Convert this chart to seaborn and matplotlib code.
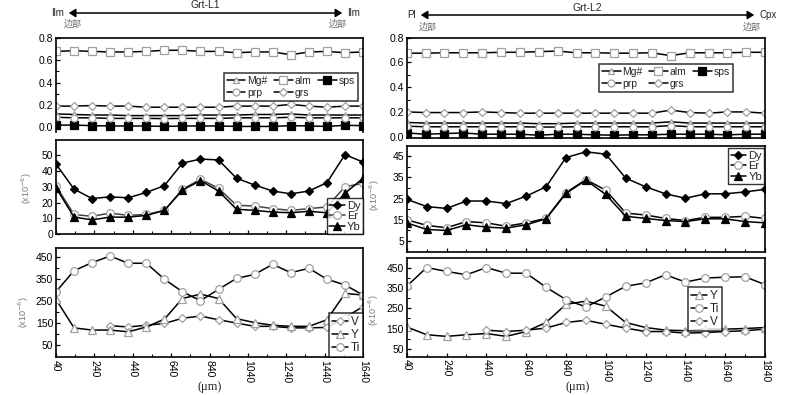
import numpy as np
import matplotlib
matplotlib.use("Agg")
import matplotlib.pyplot as plt
from matplotlib.ticker import MultipleLocator, FixedLocator
import seaborn as sns

# ---- data ----
# left profile Grt-L1, 18 spots
x_l = [40, 134, 228, 322, 416, 511, 605, 699, 793, 887, 981, 1075, 1169, 1264, 1358, 1452, 1546, 1640]
mg_l = [0.12, 0.115, 0.11, 0.11, 0.105, 0.105, 0.105, 0.105, 0.11, 0.11, 0.11, 0.115, 0.115, 0.12, 0.11, 0.11, 0.11, 0.11]
alm_l = [0.68, 0.686, 0.68, 0.675, 0.675, 0.68, 0.69, 0.69, 0.68, 0.68, 0.668, 0.675, 0.675, 0.65, 0.675, 0.68, 0.668, 0.675]
sps_l = [0.02, 0.02, 0.015, 0.012, 0.012, 0.012, 0.008, 0.012, 0.012, 0.012, 0.008, 0.008, 0.008, 0.015, 0.012, 0.008, 0.018, 0.015]
prp_l = [0.09, 0.085, 0.085, 0.08, 0.08, 0.08, 0.078, 0.08, 0.08, 0.08, 0.085, 0.085, 0.085, 0.09, 0.085, 0.085, 0.085, 0.085]
grs_l = [0.19, 0.19, 0.195, 0.19, 0.19, 0.18, 0.18, 0.18, 0.18, 0.18, 0.19, 0.19, 0.19, 0.205, 0.19, 0.18, 0.19, 0.19]

dy_l = [44.4, 28.5, 22.5, 23.6, 23.0, 26.4, 30.7, 45.0, 47.6, 47.0, 35.4, 31.1, 27.3, 25.5, 27.3, 32.6, 50.4, 45.7]
er_l = [30.5, 12.4, 11.2, 13.3, 11.8, 12.4, 15.0, 28.3, 34.8, 29.0, 18.2, 17.8, 16.1, 15.0, 16.1, 17.2, 30.0, 32.2]
yb_l = [29.4, 10.7, 9.0, 10.7, 10.7, 11.8, 15.0, 27.9, 33.9, 27.3, 15.7, 15.0, 13.9, 13.5, 14.4, 13.5, 25.8, 35.4]

ti_l = [293, 389, 426, 456, 423, 423, 350, 293, 252, 304, 354, 372, 418, 380, 400, 350, 324, 278]
y_l = [258, 128, 118, 118, 110, 132, 168, 262, 282, 262, 170, 152, 140, 135, 135, 165, 285, 278]
v_l = [np.nan, np.nan, np.nan, 138, 132, 140, 148, 172, 182, 165, 150, 135, 135, 128, 128, 130, 175, 225]

# right profile Grt-L2
x_rt = [40, 135, 229, 324, 419, 514, 608, 703, 798, 893, 987, 1082, 1177, 1272, 1366, 1461, 1556, 1651, 1745, 1840]
mg_r = [0.115, 0.11, 0.11, 0.11, 0.11, 0.11, 0.11, 0.105, 0.105, 0.11, 0.11, 0.11, 0.11, 0.11, 0.12, 0.11, 0.11, 0.11, 0.11, 0.11]
alm_r = [0.675, 0.675, 0.678, 0.678, 0.678, 0.682, 0.682, 0.687, 0.692, 0.678, 0.678, 0.675, 0.675, 0.678, 0.655, 0.678, 0.678, 0.678, 0.682, 0.682]
sps_r = [0.03, 0.02, 0.025, 0.03, 0.02, 0.02, 0.02, 0.012, 0.02, 0.02, 0.015, 0.012, 0.015, 0.015, 0.02, 0.02, 0.02, 0.015, 0.02, 0.02]
prp_r = [0.085, 0.08, 0.08, 0.08, 0.08, 0.08, 0.08, 0.078, 0.078, 0.08, 0.08, 0.08, 0.08, 0.08, 0.09, 0.08, 0.08, 0.08, 0.08, 0.08]
grs_r = [0.20, 0.195, 0.195, 0.195, 0.20, 0.195, 0.19, 0.19, 0.19, 0.19, 0.19, 0.19, 0.19, 0.19, 0.215, 0.195, 0.19, 0.20, 0.20, 0.19]

x_r = [40, 140, 240, 340, 440, 540, 640, 740, 840, 940, 1040, 1140, 1240, 1340, 1440, 1540, 1640, 1740, 1840]
dy_r = [24.7, 21.3, 20.4, 23.9, 23.9, 22.7, 26.2, 30.6, 44.4, 47.1, 46.0, 34.7, 30.6, 27.3, 25.2, 27.3, 27.3, 28.2, 29.4]
er_r = [15.1, 12.4, 11.3, 14.2, 13.6, 12.0, 13.6, 15.7, 27.8, 34.0, 29.0, 18.2, 17.3, 15.7, 14.7, 16.2, 16.2, 16.7, 15.7]
yb_r = [13.6, 10.5, 10.0, 12.7, 11.6, 11.1, 12.7, 15.5, 27.5, 33.7, 27.0, 16.7, 15.7, 14.7, 14.2, 15.5, 15.5, 14.2, 13.6]

ti_r = [360, 453, 434, 417, 453, 425, 425, 355, 294, 257, 307, 360, 377, 417, 381, 401, 405, 407, 368]
y_r = [158, 119, 111, 119, 125, 111, 135, 180, 270, 286, 261, 180, 155, 142, 139, 147, 147, 150, 155]
v_r = [np.nan, np.nan, np.nan, np.nan, 142, 135, 142, 152, 180, 191, 171, 152, 135, 135, 127, 130, 135, 139, 147]

sns.set_theme(style="white")
plt.rcParams['font.family'] = ['Liberation Sans', 'Noto Sans CJK SC', 'DejaVu Sans']
plt.rcParams['axes.edgecolor'] = 'black'
plt.rcParams['axes.linewidth'] = 1.2

GR = '#a0a0a0'
FS = 7

fig = plt.figure(figsize=(8, 3.95), dpi=100)
ax_lt = fig.add_axes([0.07, 0.6658, 0.38375, 0.238])
ax_lm = fig.add_axes([0.07, 0.4076, 0.38375, 0.2392])
ax_lb = fig.add_axes([0.07, 0.0962, 0.38375, 0.2767])
ax_rt = fig.add_axes([0.5084, 0.6499, 0.4479, 0.2547])
ax_rm = fig.add_axes([0.5084, 0.3628, 0.4479, 0.2684])
ax_rb = fig.add_axes([0.5084, 0.0970, 0.4479, 0.2506])


def line(ax, x, y, lab, mk, fill='white', edge=GR, ms=5, lc='black'):
    sns.lineplot(x=x, y=y, ax=ax, label=lab, color=lc, lw=1.1, marker=mk, ms=ms,
                 markerfacecolor=fill, markeredgecolor=edge, markeredgewidth=0.9,
                 errorbar=None)


def major_panel(ax, x, mg, alm, sps, prp, grs, anchor):
    line(ax, x, mg, 'Mg#', '^')
    line(ax, x, alm, 'alm', 's', ms=6)
    line(ax, x, sps, 'sps', 's', fill='black', edge='black', ms=6)
    line(ax, x, prp, 'prp', 'o')
    line(ax, x, grs, 'grs', 'D', ms=4.5)
    h, l = ax.get_legend_handles_labels()
    order = [0, 3, 1, 4, 2]
    ax.legend([h[i] for i in order], [l[i] for i in order], ncol=3, loc='upper right',
              bbox_to_anchor=anchor, fontsize=FS + 0.5, frameon=True, fancybox=False,
              edgecolor='black', handlelength=1.8, handletextpad=0.2, columnspacing=0.6,
              labelspacing=0.15, borderpad=0.3, borderaxespad=0)
    ax.legend_.get_frame().set_linewidth(1.1)
    ax.set_yticks([0, 0.2, 0.4, 0.6, 0.8])
    ax.set_yticklabels(['0.0', '0.2', '0.4', '0.6', '0.8'])
    ax.yaxis.set_minor_locator(MultipleLocator(0.1))
    ax.set_xticks([])


def ree_panel(ax, x, dy, er, yb, loc, anchor, er_line):
    line(ax, x, dy, 'Dy', 'D', fill='black', edge='black', ms=4.5)
    line(ax, x, er, 'Er', 'o', ms=5.5, lc=er_line)
    line(ax, x, yb, 'Yb', '^', fill='black', edge='black', ms=5.5)
    ax.legend(loc=loc, bbox_to_anchor=anchor, fontsize=FS + 1, frameon=True, fancybox=False,
              edgecolor='black', handlelength=1.4, handletextpad=0.2, labelspacing=0.05,
              borderpad=0.2, borderaxespad=0)
    ax.set_xticklabels([])


def trace_panel(ax, x, series, anchor, loc):
    for lab, vals, mk in series:
        line(ax, x, vals, lab, mk, ms=5.5 if mk != 'D' else 4.5)
    ax.legend(loc=loc, bbox_to_anchor=anchor, fontsize=FS + 1.5, frameon=True, fancybox=False,
              edgecolor='black', handlelength=1.4, handletextpad=0.2, labelspacing=0.1,
              borderpad=0.25, borderaxespad=0)
    ax.legend_.get_frame().set_linewidth(1.1)
    ax.set_yticks([50, 150, 250, 350, 450])
    ax.yaxis.set_minor_locator(FixedLocator([100, 200, 300, 400]))


major_panel(ax_lt, x_l, mg_l, alm_l, sps_l, prp_l, grs_l, (0.984, 0.628))
ax_lt.set_ylim(-0.042, 0.8)
ax_lt.spines['bottom'].set_visible(False)
major_panel(ax_rt, x_rt, mg_r, alm_r, sps_r, prp_r, grs_r, (0.911, 0.739))
ax_rt.set_ylim(-0.013, 0.8)

ree_panel(ax_lm, x_l, dy_l, er_l, yb_l, 'lower right', (1.0, 0.0), '#444444')
ax_lm.set_ylim(0, 60)
ax_lm.set_yticks([0, 10, 20, 30, 40, 50])
ree_panel(ax_rm, x_r, dy_r, er_r, yb_r, 'upper right', (0.998, 0.975), 'black')
ax_rm.set_ylim(0, 50)
ax_rm.set_yticks([5, 15, 25, 35, 45])
ax_rm.yaxis.set_minor_locator(FixedLocator([10, 20, 30, 40]))

trace_panel(ax_lb, x_l, [('V', v_l, 'D'), ('Y', y_l, '^'), ('Ti', ti_l, 'o')], (1.0, 0.0), 'lower right')
ax_lb.set_ylim(-5, 494)
trace_panel(ax_rb, x_r, [('Y', y_r, '^'), ('Ti', ti_r, 'o'), ('V', v_r, 'D')], (0.88, 0.704), 'upper right')
ax_rb.set_ylim(10, 502)

for ax, xmax in [(ax_lt, 1640), (ax_lm, 1640), (ax_lb, 1640), (ax_rt, 1840), (ax_rm, 1840), (ax_rb, 1840)]:
    ax.set_xlim(40, xmax)
    ax.set_xlabel('')
    ax.set_ylabel('')
    ax.tick_params(axis='both', which='both', direction='in', labelsize=FS + 0.5, pad=2, colors='black')
    ax.tick_params(which='major', length=3, width=0.9)
    ax.tick_params(which='minor', length=2, width=0.8)
    ax.tick_params(axis='x', which='both', top=False)
    ax.tick_params(axis='y', which='both', right=False, left=True)
    for s in ax.spines.values():
        s.set_color('black')
        s.set_linewidth(1.2)
    if ax not in (ax_lt, ax_rt):
        ax.set_xticks(list(range(40, xmax + 1, 200)))
        ax.set_xticks(list(range(140, xmax, 200)), minor=True)
        ax.tick_params(axis='x', which='both', bottom=True)

ax_lm.set_xticklabels([])
ax_rm.set_xticklabels([])
for ax in (ax_lb, ax_rb):
    for t in ax.get_xticklabels():
        t.set_rotation(270)
        t.set_va('top')
        t.set_ha('center')

# axis titles
lab = '(x10$^{-6}$)'
for xx, yy in [(27, 188), (24, 312), (375, 195), (374, 310)]:
    fig.text(xx / 800, 1 - yy / 395, lab, rotation=90, ha='center', va='center', fontsize=FS - 0.5, color='#777777')
fig.text(210 / 800, 1 - 387 / 395, '(μm)', ha='center', va='center', fontsize=9, family='Liberation Serif')
fig.text(578 / 800, 1 - 387 / 395, '(μm)', ha='center', va='center', fontsize=9, family='Liberation Serif')

# profile headers with arrows
def header(x0, x1, yarr, ytitle, title, lend, rend, rim_l, rim_r, yrim):
    fig.text((x0 + x1) / 2 / 800, 1 - ytitle / 395, title, ha='center', va='center', fontsize=FS + 0.5)
    fig.add_artist(matplotlib.patches.FancyArrowPatch(
        (x0 / 800, 1 - yarr / 395), (x1 / 800, 1 - yarr / 395), transform=fig.transFigure,
        arrowstyle='<|-|>,head_length=4,head_width=2.5', color='black', lw=1.1, mutation_scale=1))
    fig.text((x0 - 2) / 800, 1 - yarr / 395, lend, ha='right', va='center', fontsize=FS)
    fig.text((x1 + 2) / 800, 1 - yarr / 395, rend, ha='left', va='center', fontsize=FS)
    fig.text(rim_l / 800, 1 - yrim / 395, '边部', ha='center', va='center', fontsize=FS - 0.5, color='#666666')
    fig.text(rim_r / 800, 1 - yrim / 395, '边部', ha='center', va='center', fontsize=FS - 0.5, color='#666666')


header(66, 345, 13, 5, 'Grt-L1', 'Ilm', 'Ilm', 73, 338, 24)
header(418, 757, 15, 8, 'Grt-L2', 'Pl', 'Cpx', 428, 752, 27)

fig.savefig('out.png', dpi=100, facecolor='white')
